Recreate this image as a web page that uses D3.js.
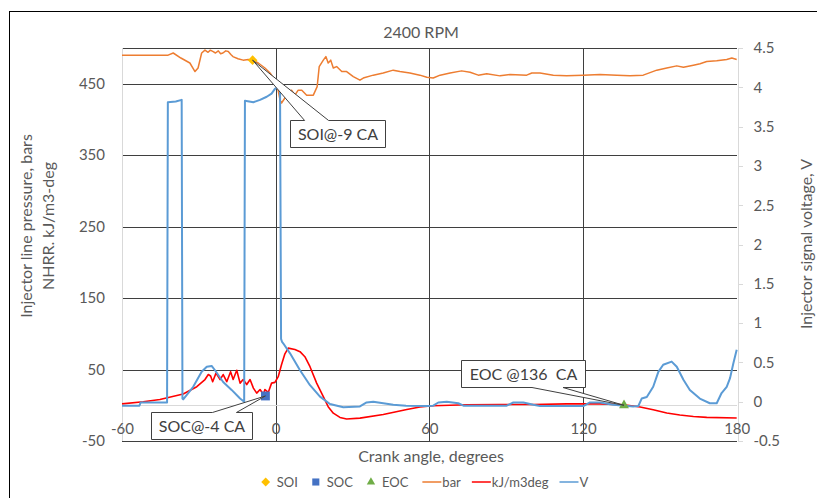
<!DOCTYPE html>
<html>
<head>
<meta charset="utf-8">
<script src="https://cdn.jsdelivr.net/npm/d3@7"></script>
<style>
  html, body { margin: 0; padding: 0; background: #fff; }
  svg { display: block; font-family: Lato, "Open Sans", sans-serif; }
</style>
</head>
<body>
<svg id="chart" width="817" height="498"></svg>
<script>
// Injector line pressure (bar), crank angle vs value
const barSeries = [[-60,490],[-50,490],[-42,490],[-40,493],[-37,486],[-33.5,479],[-31.5,467],[-30.3,472],[-28.9,493],[-27.6,497],[-26.4,494],[-25.5,497],[-24.4,495],[-23.5,493],[-22.4,496],[-21.5,492],[-20.6,493],[-19.5,496],[-18.5,495],[-17.5,491],[-16.7,488],[-14.7,485],[-12.7,483],[-10.7,484],[-9,483],[-6.8,479],[-4.2,472],[-2.2,465],[-0.9,458],[0.4,451],[1.7,427],[2.3,423],[3.6,430],[4.9,439],[6.2,441],[7.5,434],[8.8,441],[10.2,441],[12.1,434],[14.7,434],[16.2,446],[17.0,474],[18.6,483],[19.6,488],[20.5,479],[21.5,483],[22.5,472],[23.8,474],[25.8,467],[27.7,467],[30.3,460],[32.9,455],[34.2,458],[38.1,462],[42,465],[45.9,469],[48.5,467],[52.4,465],[56.3,462],[59,459],[61.5,458],[64.2,462],[68.1,465],[72.6,468],[75.9,466],[79.1,462],[82.4,464],[87.6,461],[91.5,463],[98,462],[100,465],[103.2,465],[108.4,462],[113.6,461],[120.1,462],[126.6,463],[133.2,462],[138.3,461],[143.5,462],[148.8,469],[152.7,472],[156.6,475],[159.2,473],[163.1,476],[165.7,478],[168.3,481],[172.2,482],[176.1,484],[178.1,486],[180,484]];

// Net heat release rate (kJ/m3deg)
const nhrrSeries = [[-60,2],[-51.7,5],[-45.2,8],[-36.1,15.7],[-30.8,26],[-27.6,36],[-26.3,43],[-25.4,41],[-24.6,33],[-23.3,45],[-21.7,36],[-20.5,43],[-19.1,33],[-17.6,47],[-16.6,36],[-15.2,49],[-13.9,31],[-12.7,36],[-11.3,29],[-10,36],[-8.7,24],[-7.4,17],[-6.1,22],[-4.8,15],[-4.2,22],[-2.9,18],[-1.6,31],[-0.3,32],[1,40],[2.3,57],[3.6,72],[4.9,80],[7.5,78],[9.5,75],[11.4,68],[13.4,54],[16,31],[18.6,12],[20.5,-2],[22.5,-11],[25.1,-17],[27.7,-19.3],[32.9,-18],[42,-13],[51.2,-6],[56.3,-2.5],[61.5,-0.7],[74.6,0.7],[87.6,1.1],[100.6,1.1],[113.6,2],[126.6,2],[136,0.7],[142.3,-2.5],[147.4,-6.3],[152.7,-10.9],[157.8,-13.7],[163.1,-15.7],[168.3,-17],[180,-17.9]];

// Injector signal voltage (V)
const voltSeries = [[-60,-0.05],[-53.2,-0.05],[-52.7,-0.01],[-42.4,-0.01],[-42.1,3.81],[-39,3.82],[-36.7,3.84],[-36.4,0.04],[-36.1,0.03],[-32.2,0.19],[-28.9,0.38],[-26.9,0.445],[-25,0.455],[-23.7,0.40],[-20.5,0.25],[-17.2,0.15],[-13.9,0.04],[-12.3,0.0],[-12.0,3.83],[-8.7,3.81],[-6.1,3.84],[-3.5,3.88],[-1.6,3.92],[-0.3,3.98],[1.7,4.02],[2.1,0.80],[2.5,0.76],[3,0.74],[5.6,0.615],[9.5,0.40],[13.4,0.21],[17.3,0.064],[21.2,-0.03],[26.4,-0.07],[32.9,-0.06],[35.5,-0.01],[38.1,0],[42,-0.02],[45.9,-0.04],[50.9,-0.05],[59,-0.055],[61.5,-0.05],[63.5,-0.01],[66.8,0],[71.3,-0.02],[73.3,-0.05],[90.2,-0.05],[92.8,-0.01],[96.7,-0.01],[100.6,-0.04],[103.2,-0.055],[120.1,-0.055],[122.7,-0.01],[126.6,-0.01],[131.8,-0.04],[139.6,-0.06],[141.6,-0.055],[142.9,0.04],[144.9,0.06],[147.4,0.19],[149.4,0.38],[151.3,0.47],[154.6,0.51],[156.6,0.445],[159.2,0.28],[161.7,0.15],[165.6,0.04],[169.5,-0.02],[172.2,-0.02],[174.1,0.11],[176.1,0.19],[177.4,0.30],[178.7,0.49],[180,0.66]];

// Event markers: start of injection, start / end of combustion
const soiPoint = [[-9, 483]];
const socPoint = [[-4, 13]];
const eocPoint = [[136, 0]];

// Axis ticks
const xTicks = [-60, 0, 60, 120, 180];
const leftTicks = [-50, 50, 150, 250, 350, 450];
const rightTicks = [-0.5, 0, 0.5, 1, 1.5, 2, 2.5, 3, 3.5, 4, 4.5];

// Callout labels
const callouts = [
  { text: "SOI@-9 CA", at: soiPoint[0] },
  { text: "SOC@-4 CA", at: socPoint[0] },
  { text: "EOC @136\u00a0 CA", at: eocPoint[0] }
];

const legendItems = [
  { name: "SOI", kind: "diamond", color: "#FFC000" },
  { name: "SOC", kind: "square", color: "#4472C4" },
  { name: "EOC", kind: "triangle", color: "#70AD47" },
  { name: "bar", kind: "line", color: "#ED7D31" },
  { name: "kJ/m3deg", kind: "line", color: "#FF0000" },
  { name: "V", kind: "line", color: "#5B9BD5" }
];

const svg = d3.select("#chart");
const plot = { left: 122, right: 736.7, top: 48, bottom: 441 };
const textGray = "#595959";
const gridColor = "#3f3f3f";
const axisGray = "#d9d9d9";

const x = d3.scaleLinear().domain([-60, 180]).range([plot.left, plot.right]);
const yL = d3.scaleLinear().domain([-50, 500]).range([plot.bottom, plot.top]);
const yR = d3.scaleLinear().domain([-0.5, 4.5]).range([plot.bottom, plot.top]);

// chart frame
svg.append("rect").attr("x", 9.5).attr("y", 11.5).attr("width", 900).attr("height", 600)
  .attr("fill", "none").attr("stroke", "#000").attr("stroke-width", 1);

// title
svg.append("text").attr("x", 421).attr("y", 37.5).attr("text-anchor", "middle")
  .attr("font-size", 16).attr("fill", textGray).text("2400 RPM");

const crisp = v => Math.round(v) + 0.5;

// horizontal gridlines + top border of the plot
const gridG = svg.append("g").attr("shape-rendering", "crispEdges");
gridG.selectAll("line.h").data(leftTicks.concat([500])).join("line")
  .attr("x1", plot.left).attr("x2", plot.right)
  .attr("y1", d => crisp(yL(d))).attr("y2", d => crisp(yL(d)))
  .attr("stroke", gridColor).attr("stroke-width", 1);
// vertical gridlines
gridG.selectAll("line.v").data(xTicks.filter(d => d > -60 && d < 180)).join("line")
  .attr("y1", plot.top).attr("y2", plot.bottom)
  .attr("x1", d => crisp(x(d))).attr("x2", d => crisp(x(d)))
  .attr("stroke", gridColor).attr("stroke-width", 1);

// axis lines (light)
const axG = svg.append("g").attr("shape-rendering", "crispEdges");
axG.append("line").attr("x1", crisp(plot.left)).attr("x2", crisp(plot.left))
  .attr("y1", plot.top).attr("y2", plot.bottom).attr("stroke", axisGray);
axG.append("line").attr("x1", plot.left).attr("x2", plot.right)
  .attr("y1", crisp(yL(0))).attr("y2", crisp(yL(0))).attr("stroke", axisGray);

// left axis labels
const leftAxis = svg.append("g").attr("transform", `translate(${plot.left},0)`)
  .call(d3.axisLeft(yL).tickValues(leftTicks).tickSize(0).tickPadding(17).tickFormat(d => String(d)));
leftAxis.select(".domain").remove();
leftAxis.selectAll("text").attr("font-size", 15).attr("fill", textGray).attr("font-family", "Lato");

// right axis
const rightAxis = svg.append("g").attr("transform", `translate(${crisp(plot.right)},0)`)
  .attr("shape-rendering", "crispEdges")
  .call(d3.axisRight(yR).tickValues(rightTicks).tickSizeInner(5).tickSizeOuter(0).tickPadding(11).tickFormat(d => String(d)));
rightAxis.select(".domain").attr("stroke", axisGray);
rightAxis.selectAll(".tick line").attr("stroke", axisGray);
rightAxis.selectAll("text").attr("font-size", 15).attr("fill", textGray).attr("font-family", "Lato");

// bottom axis labels, sitting under the zero line
const bottomAxis = svg.append("g").attr("transform", `translate(0,${yL(0)})`)
  .call(d3.axisBottom(x).tickValues(xTicks).tickSize(0).tickPadding(18).tickFormat(d => String(d)));
bottomAxis.select(".domain").remove();
bottomAxis.selectAll("text").attr("font-size", 15).attr("fill", textGray).attr("font-family", "Lato");

// axis titles
svg.append("text").attr("x", 431).attr("y", 462).attr("text-anchor", "middle")
  .attr("font-size", 16).attr("fill", textGray).text("Crank angle, degrees");
const lt = svg.append("text").attr("transform", "translate(31.5,226) rotate(-90)")
  .attr("text-anchor", "middle").attr("font-size", 16).attr("fill", textGray);
lt.append("tspan").attr("x", 0).attr("y", 0).text("Injector line pressure, bars");
lt.append("tspan").attr("x", 0).attr("y", 22).text("NHRR. kJ/m3-deg");
svg.append("text").attr("transform", "translate(812,244) rotate(-90)")
  .attr("text-anchor", "middle").attr("font-size", 16).attr("fill", textGray)
  .text("Injector signal voltage, V");

// series lines
const lineL = d3.line().x(d => x(d[0])).y(d => yL(d[1]));
const lineR = d3.line().x(d => x(d[0])).y(d => yR(d[1]));
const linesG = svg.append("g").attr("fill", "none").attr("stroke-linejoin", "round");
linesG.append("path").datum(barSeries).attr("d", lineL).attr("stroke", "#ED7D31").attr("stroke-width", 1.5);
linesG.append("path").datum(nhrrSeries).attr("d", lineL).attr("stroke", "#FF0000").attr("stroke-width", 1.6);
linesG.append("path").datum(voltSeries).attr("d", lineR).attr("stroke", "#5B9BD5").attr("stroke-width", 2);

// markers
const sym = {
  diamond: d3.symbol().type(d3.symbolDiamond2).size(60),
  square: d3.symbol().type(d3.symbolSquare2).size(100),
  triangle: d3.symbol().type(d3.symbolTriangle2).size(70)
};
const markG = svg.append("g");
markG.selectAll("path.soi").data(soiPoint).join("path")
  .attr("transform", d => `translate(${x(d[0])},${yL(d[1])})`).attr("d", sym.diamond()).attr("fill", "#FFC000");
markG.selectAll("path.soc").data(socPoint).join("path")
  .attr("transform", d => `translate(${x(d[0])},${yL(d[1])})`).attr("d", sym.square()).attr("fill", "#4472C4");
markG.selectAll("path.eoc").data(eocPoint).join("path")
  .attr("transform", d => `translate(${x(d[0])},${yL(d[1])})`).attr("d", sym.triangle()).attr("fill", "#70AD47");

// wedge callouts: box placement relative to the anchored point
const calloutBoxes = [
  { dx: 37, dy: 60, w: 95, h: 27, wedge: [52, 76], edge: "top" },
  { dx: -114, dy: 16, w: 101, h: 27, wedge: [-53, -29], edge: "top" },
  { dx: -163, dy: -45, w: 124, h: 27, wedge: [-92, -61], edge: "bottom" }
];
const callG = svg.append("g");
callouts.forEach((c, i) => {
  const b = calloutBoxes[i];
  const px = x(c.at[0]), py = yL(c.at[1]);
  const bx = Math.round(px + b.dx) + 0.5, by = Math.round(py + b.dy) + 0.5;
  const w1 = px + b.wedge[0], w2 = px + b.wedge[1];
  // outline path: rectangle with wedge spliced into one edge
  let p;
  if (b.edge === "top") {
    p = `M${bx},${by} L${w1},${by} L${px},${py} L${w2},${by} L${bx + b.w},${by} L${bx + b.w},${by + b.h} L${bx},${by + b.h} Z`;
  } else {
    p = `M${bx},${by} L${bx + b.w},${by} L${bx + b.w},${by + b.h} L${w2},${by + b.h} L${px},${py} L${w1},${by + b.h} L${bx},${by + b.h} Z`;
  }
  callG.append("path").attr("d", p).attr("fill", "#fff").attr("stroke", "#404040").attr("stroke-width", 1);
  callG.append("text").attr("x", bx + b.w / 2).attr("y", by + 19.5).attr("text-anchor", "middle")
    .attr("font-size", 16).attr("fill", "#404040").text(c.text);
});

// legend
const legG = svg.append("g").attr("transform", "translate(0,482)");
let cx = 0;
legendItems.forEach(it => {
  const g = legG.append("g").attr("transform", `translate(${cx},0)`);
  let tx;
  if (it.kind === "line") {
    g.append("line").attr("x1", 0).attr("x2", 19).attr("y1", 0).attr("y2", 0)
      .attr("stroke", it.color).attr("stroke-width", 1.5);
    tx = 20;
  } else {
    const s = d3.symbol().type(it.kind === "diamond" ? d3.symbolDiamond2 : it.kind === "square" ? d3.symbolSquare2 : d3.symbolTriangle2)
      .size(it.kind === "square" ? 64 : 50);
    g.append("path").attr("transform", "translate(4,0)").attr("d", s()).attr("fill", it.color);
    tx = 15;
  }
  const t = g.append("text").attr("x", tx).attr("y", 4.6).attr("font-size", 13).attr("fill", textGray).text(it.name);
  const w = tx + t.node().getComputedTextLength();
  cx += w + (it.kind === "line" ? 11 : 14);
});
const legW = cx - 11;
legG.attr("transform", `translate(${262 + (326 - legW) / 2},482)`);
</script>
</body>
</html>
